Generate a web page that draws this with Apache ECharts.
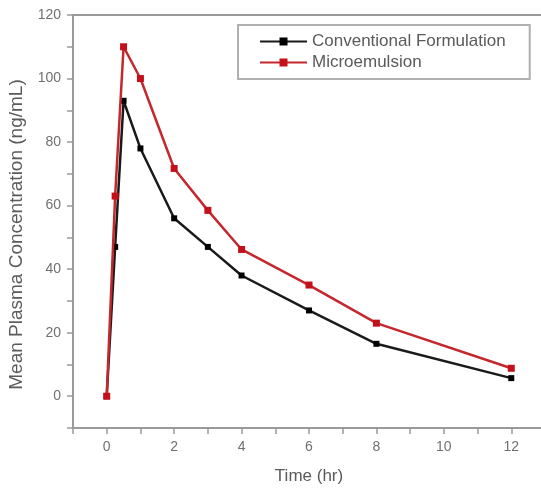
<!DOCTYPE html>
<html>
<head>
<meta charset="utf-8">
<script src="https://cdn.jsdelivr.net/npm/echarts@6/dist/echarts.min.js"></script>
<style>html,body{margin:0;padding:0;background:#fff}#c{width:541px;height:489px}</style>
</head>
<body>
<div id="c"></div>
<script>
const time = [0, 0.25, 0.5, 1, 2, 3, 4, 6, 8, 12];
const conventional = [0, 47, 93, 78, 56, 47, 38, 27, 16.5, 5.7];
const microemulsion = [0, 63, 110, 100, 71.7, 58.5, 46.2, 35, 23, 8.8];
const seriesNames = ['Conventional Formulation', 'Microemulsion'];
const xTickLabels = [0, 2, 4, 6, 8, 10, 12];
const yTickLabels = [0, 20, 40, 60, 80, 100, 120];

const chart = echarts.init(document.getElementById('c'), null, {renderer: 'canvas'});
const pair = (xs, ys) => xs.map((x, i) => [x, ys[i]]);
const axisGrey = '#9a9a9a';
const textGrey = '#5a5a5a';
chart.setOption({
  animation: false,
  backgroundColor: '#fff',
  textStyle: {fontFamily: 'Liberation Sans, Arial, sans-serif'},
  grid: {left: 73, top: 15, right: -4, bottom: 61, show: true, borderColor: axisGrey, borderWidth: 2,
    containLabel: false, outerBoundsMode: 'none'},
  legend: {
    left: 238, top: 25, orient: 'vertical',
    padding: [8, 24, 8, 21],
    borderColor: '#b0b0b0', borderWidth: 2,
    itemWidth: 47, itemHeight: 10, itemGap: 4,
    textStyle: {fontSize: 17, color: textGrey},
    data: seriesNames
  },
  xAxis: {
    type: 'value', min: -1, max: 13, interval: 1,
    name: 'Time (hr)', nameLocation: 'middle', nameGap: 40,
    nameTextStyle: {fontSize: 17, color: textGrey},
    axisLine: {show: true, onZero: false, lineStyle: {color: axisGrey, width: 2}},
    axisTick: {show: true, inside: false, length: 6, lineStyle: {color: axisGrey, width: 1.5}},
    axisLabel: {margin: 12, fontSize: 14, color: '#707070',
      formatter: v => xTickLabels.includes(v) ? String(v) : ''},
    splitLine: {show: false}
  },
  yAxis: {
    type: 'value', min: -10, max: 120, interval: 10,
    name: 'Mean Plasma Concentration (ng/mL)', nameLocation: 'middle', nameGap: 47,
    nameTextStyle: {fontSize: 19, color: textGrey, padding: [0, 26, 0, 0]},
    axisLine: {show: true, onZero: false, lineStyle: {color: axisGrey, width: 2}},
    axisTick: {show: true, inside: false, length: 6, lineStyle: {color: axisGrey, width: 1.5}},
    axisLabel: {margin: 12, fontSize: 14, color: '#707070',
      formatter: v => yTickLabels.includes(v) ? String(v) : ''},
    splitLine: {show: false}
  },
  series: [
    {name: seriesNames[0], type: 'line', data: pair(time, conventional),
      symbol: 'rect', symbolSize: 6, z: 2,
      lineStyle: {color: '#1a1a1a', width: 2.5}, itemStyle: {color: '#000'}},
    {name: seriesNames[1], type: 'line', data: pair(time, microemulsion),
      symbol: 'rect', symbolSize: 7, z: 3,
      lineStyle: {color: '#c4272d', width: 2.5}, itemStyle: {color: '#c4101a'}}
  ]
});
</script>
</body>
</html>
